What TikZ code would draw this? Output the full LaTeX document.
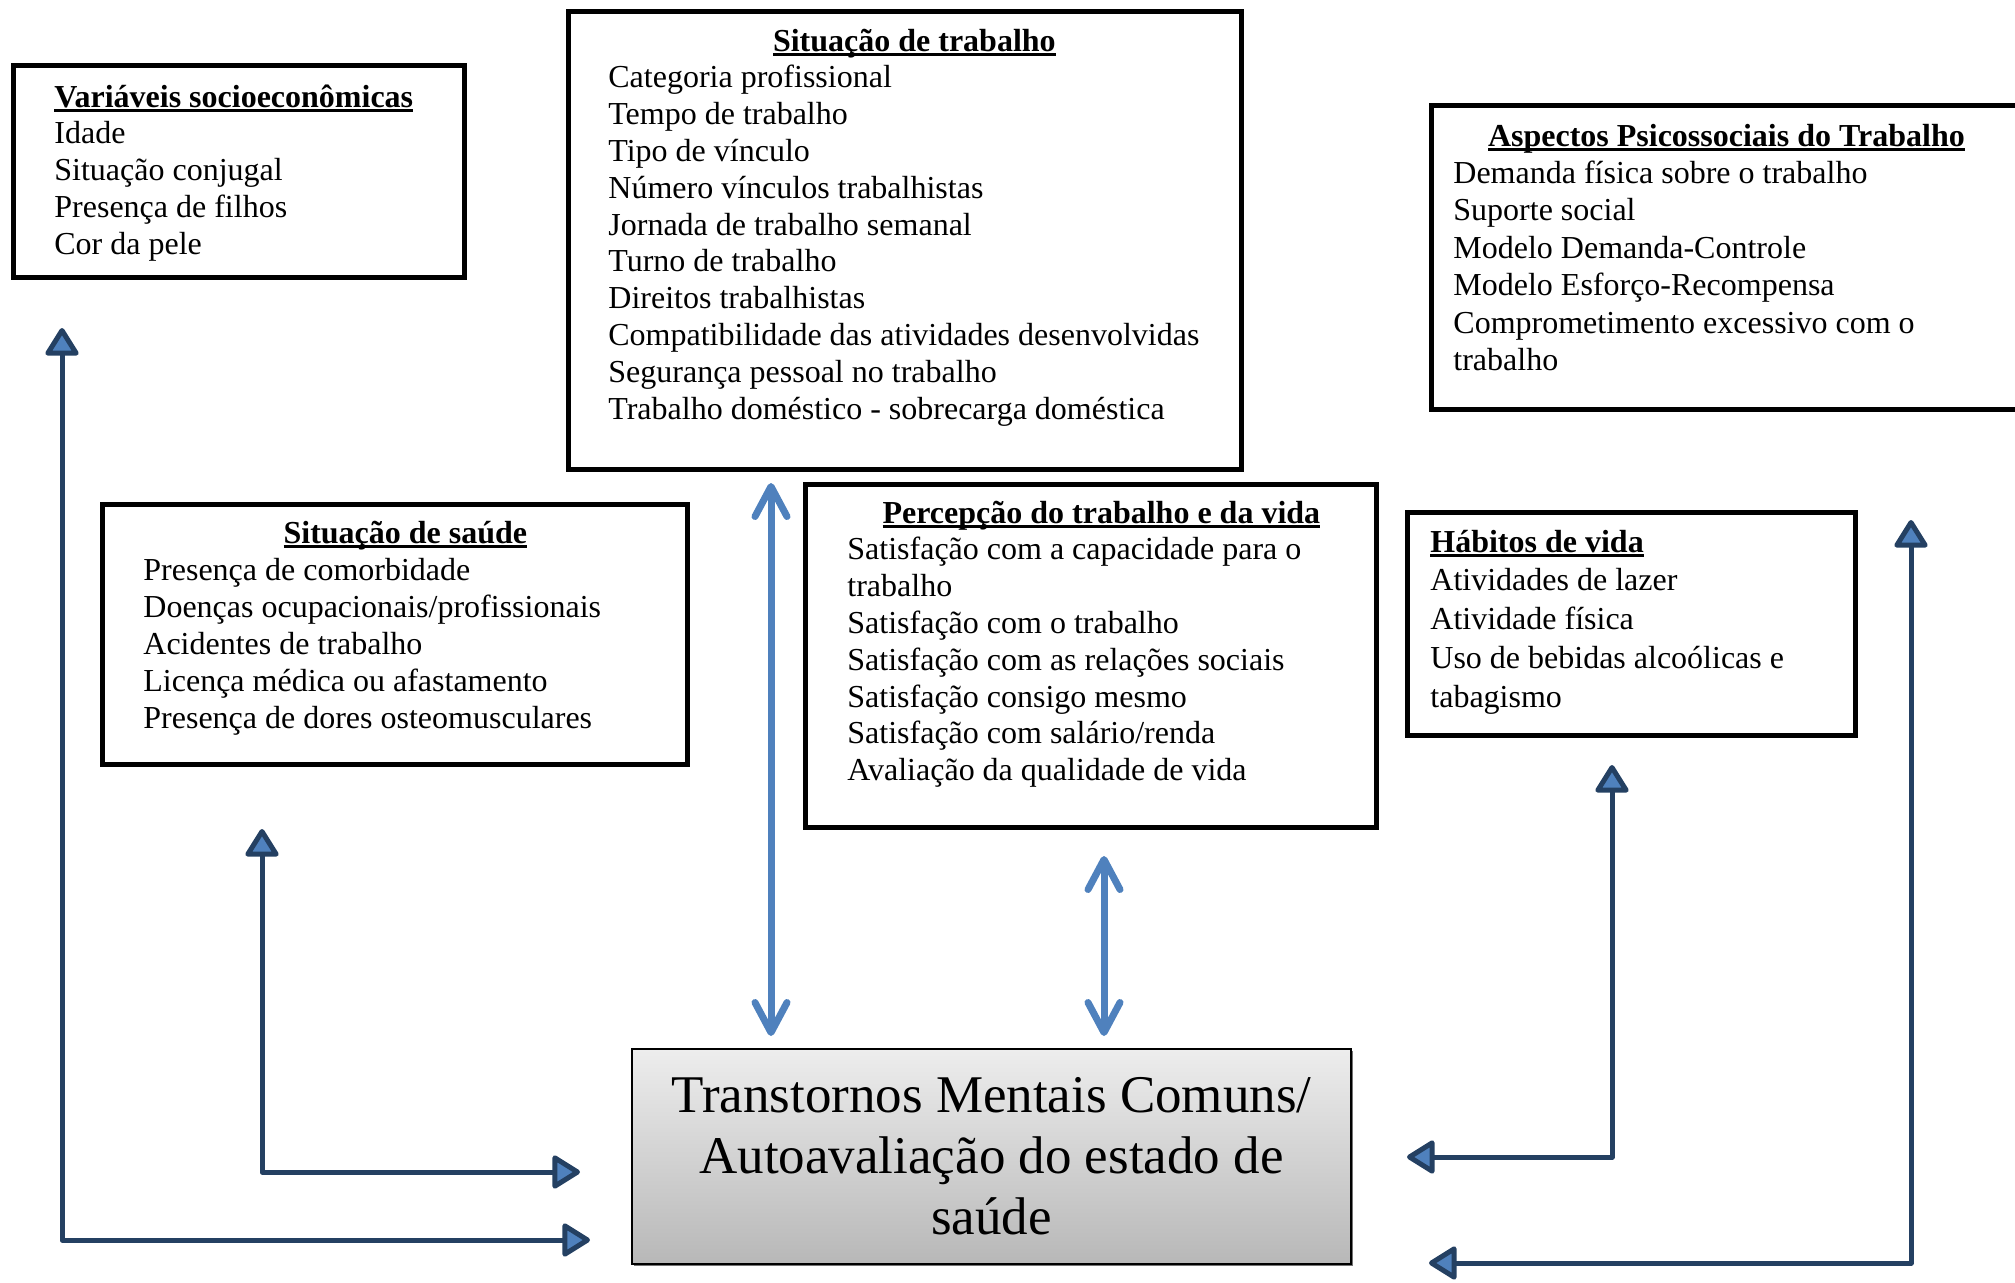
\documentclass[tikz,border=0pt]{standalone}
\usepackage{fontspec}
\setmainfont{Liberation Serif}
\usetikzlibrary{arrows.meta,fit,shadows}
\definecolor{linkblue}{RGB}{36,64,98}
\definecolor{tipblue}{RGB}{79,129,189}
% bold title with a rule under it
\newcommand\ttlu[1]{\leavevmode\setbox0\hbox{\textbf{#1}}\rlap{\rule[-2.4pt]{\wd0}{1.2pt}}\box0}
\tikzset{
  caixa/.style={draw, line width=2.5pt, inner sep=0pt},
  txt/.style={inner sep=0pt, anchor=base west, font=\fontsize{16}{18.4}\selectfont},
  lnk/.style={linkblue, line width=2.5pt, line join=round,
    {Triangle[length=15pt,width=18pt,fill=tipblue,round]}-{Triangle[length=15pt,width=18pt,fill=tipblue,round]}},
  dbl/.style={tipblue, line width=3.5pt,
    {Straight Barb[length=15pt,width=16pt,round]}-{Straight Barb[length=15pt,width=16pt,round]},
    preaction={draw=black!30, transform canvas={shift={(0.7pt,-1pt)}}}}
}
\begin{document}
\begin{tikzpicture}[x=0.5pt, y=-0.5pt]
\useasboundingbox (0,0) rectangle (2015,1282);

% boxes
\node[caixa, fit={(13.5,65.5) (464.5,277.5)}] (vs) {};
\node[caixa, fit={(568.5,11.5) (1241.5,469.5)}] (sit) {};
\node[caixa, fit={(1431.5,105.5) (2040,409.5)}] (psi) {};
\node[caixa, fit={(102.5,504) (687.5,764.5)}] (sau) {};
\node[caixa, fit={(805.5,484.5) (1376.5,827.5)}] (per) {};
\node[caixa, fit={(1407.5,512.5) (1855.5,735.5)}] (hab) {};

% texts
\node[txt] (vs-txt) at (54,107) {\parbox[t]{210pt}{\raggedright
  \ttlu{Variáveis socioeconômicas}\\Idade\\Situação conjugal\\Presença de filhos\\Cor da pele}};
\node[txt] (sit-txt) at (608,51) {\parbox[t]{306pt}{\raggedright
  \makebox[\linewidth]{\ttlu{Situação de trabalho}}\\Categoria profissional\\Tempo de trabalho\\
  Tipo de vínculo\\Número vínculos trabalhistas\\Jornada de trabalho semanal\\Turno de trabalho\\
  Direitos trabalhistas\\Compatibilidade das atividades desenvolvidas\\Segurança pessoal no trabalho\\
  Trabalho doméstico - sobrecarga doméstica}};
\node[txt, font=\fontsize{16}{18.7}\selectfont] (psi-txt) at (1453,146) {\parbox[t]{273pt}{\raggedright
  \makebox[\linewidth]{\ttlu{Aspectos Psicossociais do Trabalho}}\\Demanda física sobre o trabalho\\
  Suporte social\\Modelo Demanda-Controle\\Modelo Esforço-Recompensa\\Comprometimento excessivo com o\\trabalho}};
\node[txt, font=\fontsize{16}{18.5}\selectfont] (sau-txt) at (143,543) {\parbox[t]{262pt}{\raggedright
  \makebox[\linewidth]{\ttlu{Situação de saúde}}\\Presença de comorbidade\\Doenças ocupacionais/profissionais\\
  Acidentes de trabalho\\Licença médica ou afastamento\\Presença de dores osteomusculares}};
\node[txt] (per-txt) at (847,523) {\parbox[t]{254pt}{\raggedright
  \makebox[\linewidth]{\ttlu{Percepção do trabalho e da vida}}\\Satisfação com a capacidade para o\\trabalho\\
  Satisfação com o trabalho\\Satisfação com as relações sociais\\Satisfação consigo mesmo\\
  Satisfação com salário/renda\\Avaliação da qualidade de vida}};
\node[txt, font=\fontsize{16}{19.4}\selectfont] (hab-txt) at (1430,552) {\parbox[t]{210pt}{\raggedright
  \ttlu{Hábitos de vida}\\Atividades de lazer\\Atividade física\\Uso de bebidas alcoólicas e\\tabagismo}};

% outcome
\node[draw, line width=1pt, top color=black!7, bottom color=black!28,
  drop shadow={shadow xshift=1.2pt, shadow yshift=-1.2pt, fill=black!55, opacity=1},
  minimum width=359.5pt, minimum height=107.5pt, inner sep=0pt, align=center,
  font=\fontsize{26.5}{30.5}\selectfont] (tm) at (991.5,1156.5)
  {Transtornos Mentais Comuns/\\Autoavaliação do estado de\\saúde};

% arrow ends
\coordinate (vs-up) at (62,328);
\coordinate (vs-dn) at (62,1240);
\coordinate (vs-in) at (590,1240);
\coordinate (sau-up) at (262,829);
\coordinate (sau-dn) at (262,1172);
\coordinate (sau-in) at (580,1172);
\coordinate (hab-up) at (1612,765);
\coordinate (hab-dn) at (1612,1157);
\coordinate (hab-in) at (1407,1157);
\coordinate (psi-up) at (1911,520);
\coordinate (psi-dn) at (1911,1263);
\coordinate (psi-in) at (1429,1263);
\coordinate (sit-out) at (771,483);
\coordinate (sit-in) at (771,1036);
\coordinate (per-out) at (1104,856);
\coordinate (per-in) at (1104,1036);

% connectors
\draw[lnk] (vs-up) -- (vs-dn) -- (vs-in);
\draw[lnk] (sau-up) -- (sau-dn) -- (sau-in);
\draw[lnk] (hab-up) -- (hab-dn) -- (hab-in);
\draw[lnk] (psi-up) -- (psi-dn) -- (psi-in);
\draw[dbl] (sit-out) -- (sit-in);
\draw[dbl] (per-out) -- (per-in);
\end{tikzpicture}
\end{document}
